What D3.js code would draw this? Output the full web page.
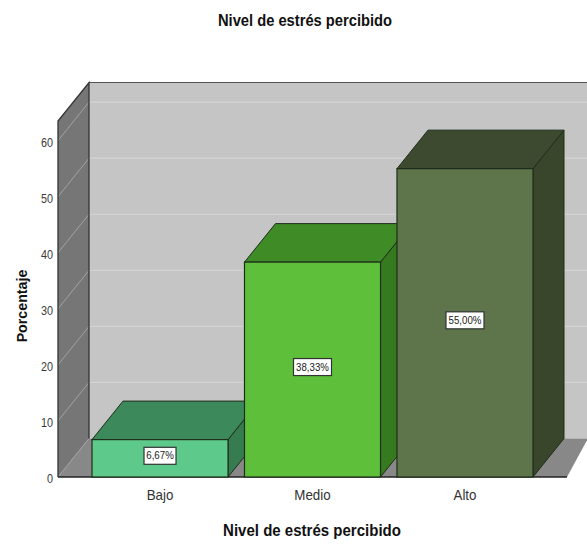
<!DOCTYPE html>
<html>
<head>
<meta charset="utf-8">
<script src="https://cdn.jsdelivr.net/npm/d3@7"></script>
<style>
  html, body { margin: 0; padding: 0; background: #fff; }
  svg { display: block; }
  text { font-family: "Liberation Sans", Arial, sans-serif; }
</style>
</head>
<body>
<svg id="chart" width="587" height="546"></svg>
<script>
// Data
const categories = ["Bajo", "Medio", "Alto"];
const percentages = [6.67, 38.33, 55.00];
const yTicks = [0, 10, 20, 30, 40, 50, 60];
const chartTitle = "Nivel de estrés percibido";
const xTitle = "Nivel de estrés percibido";
const yTitle = "Porcentaje";

// Face colours per bar: front, top, side
const barColors = [
  { front: "#5dca8b", top: "#3c8a5b", side: "#367c50" },
  { front: "#5ec03a", top: "#3f8b25", side: "#367a1f" },
  { front: "#5e744a", top: "#3d4a30", side: "#39462c" }
];

const svg = d3.select("#chart");
const W = 587;

// 3D depth offset of the chart box
const DX = 31, DY = 38.5;

// Scales on the front plane
const y = d3.scaleLinear().domain([0, 63.5]).range([477, 121]);
const x = d3.scaleBand().domain(categories).range([58, 567])
  .paddingInner(0.108).paddingOuter(0.223);

const x0 = 58, x1 = 567;
const yBase = y(0), yTop = y(63.5);

const pts = a => a.map(p => p.join(",")).join(" ");

// Condensed text: positioned at (px,py), squeezed horizontally
function narrowText(sel, px, py, sx, rot) {
  return sel.append("text")
    .attr("transform", `translate(${px},${py})` + (rot ? ` rotate(${rot})` : "") + ` scale(${sx},1)`);
}

// Back wall
svg.append("polygon")
  .attr("points", pts([[x0 + DX, yTop - DY], [x1 + DX + 20, yTop - DY], [x1 + DX + 20, yBase - DY], [x0 + DX, yBase - DY]]))
  .attr("fill", "#c5c5c5");

// Back wall gridlines
svg.append("g").selectAll("line").data(yTicks.filter(d => d > 0)).join("line")
  .attr("x1", x0 + DX).attr("x2", W)
  .attr("y1", d => y(d) - DY).attr("y2", d => y(d) - DY)
  .attr("stroke", "#d4d4d4").attr("stroke-width", 1.2);

// Back wall top edge
svg.append("line")
  .attr("x1", x0 + DX).attr("x2", W)
  .attr("y1", yTop - DY).attr("y2", yTop - DY)
  .attr("stroke", "#555").attr("stroke-width", 1.2);

// Floor
svg.append("polygon")
  .attr("points", pts([[x0, yBase], [x1, yBase], [x1 + 21, yBase - DY], [x0 + DX, yBase - DY]]))
  .attr("fill", "#888888");

// Left wall
svg.append("polygon")
  .attr("points", pts([[x0, yBase], [x0, yTop], [x0 + DX, yTop - DY], [x0 + DX, yBase - DY]]))
  .attr("fill", "#767676");

// Left wall diagonal gridlines
svg.append("g").selectAll("line").data(yTicks).join("line")
  .attr("x1", x0).attr("x2", x0 + DX)
  .attr("y1", d => y(d)).attr("y2", d => y(d) - DY)
  .attr("stroke", "#a2a2a2").attr("stroke-width", 1);

// Left wall outline
svg.append("polyline")
  .attr("points", pts([[x0, yBase], [x0, yTop], [x0 + DX, yTop - DY], [x0 + DX, yBase - DY]]))
  .attr("fill", "none").attr("stroke", "#333").attr("stroke-width", 1.3);

// Floor front edge
svg.append("line")
  .attr("x1", x0).attr("x2", x1).attr("y1", yBase).attr("y2", yBase)
  .attr("stroke", "#222").attr("stroke-width", 1.6);

// Bars (left to right so each front covers the previous side)
const fmt = d3.formatLocale({ decimal: ",", thousands: ".", grouping: [3], currency: ["", ""] }).format(".2f");
const bw = x.bandwidth();
const bars = svg.append("g");
categories.forEach((c, i) => {
  const v = percentages[i];
  const bx = x(c), by = y(v);
  const col = barColors[i];
  const g = bars.append("g");
  g.append("polygon")
    .attr("points", pts([[bx + bw, yBase], [bx + bw, by], [bx + bw + DX, by - DY], [bx + bw + DX, yBase - DY]]))
    .attr("fill", col.side).attr("stroke", "#1e2e1a").attr("stroke-width", 1);
  g.append("polygon")
    .attr("points", pts([[bx, by], [bx + bw, by], [bx + bw + DX, by - DY], [bx + DX, by - DY]]))
    .attr("fill", col.top).attr("stroke", "#1e2e1a").attr("stroke-width", 1);
  g.append("rect")
    .attr("x", bx).attr("y", by).attr("width", bw).attr("height", yBase - by)
    .attr("fill", col.front).attr("stroke", "#1e2e1a").attr("stroke-width", 1.2);

  // Value label in a white box
  const cx = bx + bw / 2, cy = (by + yBase) / 2 - 3;
  const boxW = i === 0 ? 32 : 38;
  g.append("rect")
    .attr("x", cx - boxW / 2).attr("y", cy - 8).attr("width", boxW).attr("height", 17)
    .attr("fill", "#fff").attr("stroke", "#333").attr("stroke-width", 1.2);
  narrowText(g, cx, cy + 4, 0.88)
    .attr("text-anchor", "middle").attr("font-size", 11).attr("fill", "#222")
    .text(fmt(v) + "%");
});

// Y tick labels on the front edge
const tickG = svg.append("g");
yTicks.forEach(d => {
  narrowText(tickG, 53, y(d) + 6, 0.9)
    .attr("text-anchor", "end").attr("font-size", 12).attr("fill", "#3a3a3a")
    .text(d);
});

// Category labels
const catG = svg.append("g");
categories.forEach(d => {
  narrowText(catG, x(d) + bw / 2, 500, 0.92)
    .attr("text-anchor", "middle").attr("font-size", 14.5).attr("fill", "#333")
    .text(d);
});

// Titles
narrowText(svg, 305, 26, 0.92)
  .attr("text-anchor", "middle")
  .attr("font-size", 16).attr("font-weight", "bold").attr("fill", "#111")
  .text(chartTitle);

narrowText(svg, 312, 536, 0.94)
  .attr("text-anchor", "middle")
  .attr("font-size", 16).attr("font-weight", "bold").attr("fill", "#111")
  .text(xTitle);

narrowText(svg, 27, 306, 0.95, -90)
  .attr("text-anchor", "middle")
  .attr("font-size", 15).attr("font-weight", "bold").attr("fill", "#111")
  .text(yTitle);
</script>
</body>
</html>
